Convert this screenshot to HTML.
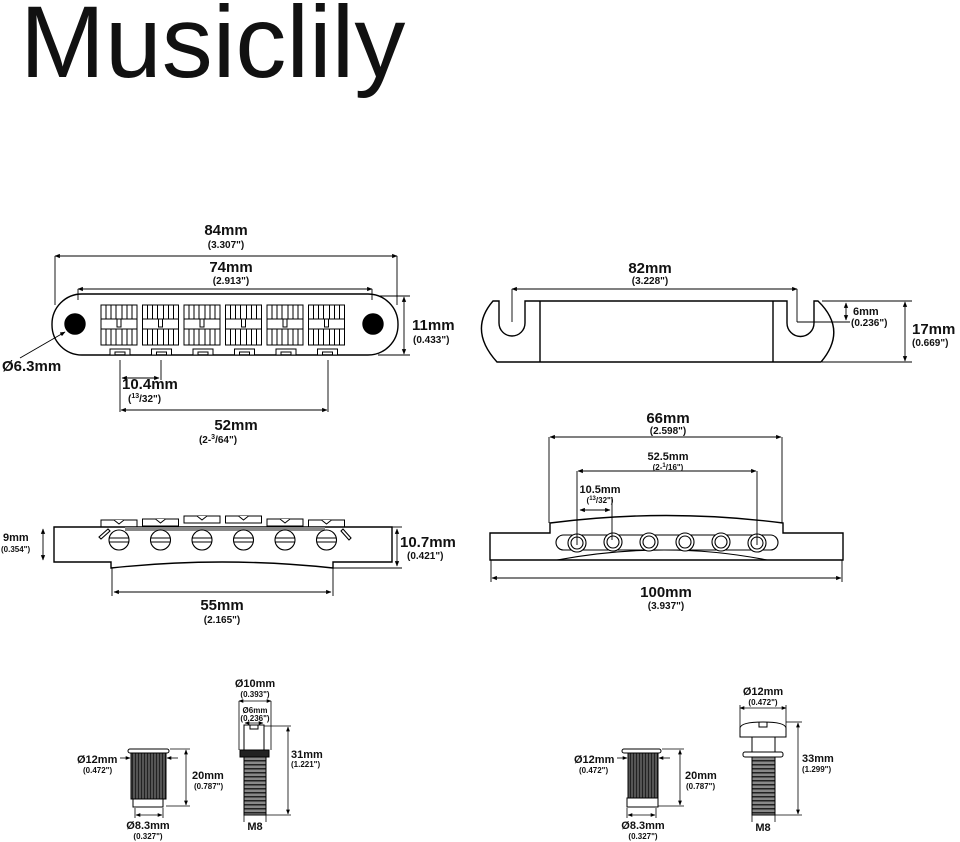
<!DOCTYPE html>
<html><head><meta charset="utf-8"><style>
html,body{margin:0;padding:0;background:#fff;}
svg{display:block;font-family:"Liberation Sans",Arial,sans-serif;}
.b{font-weight:bold;font-size:15px;}
.s{font-weight:bold;font-size:10px;}
.m{font-weight:bold;font-size:11px;}
.t{font-weight:bold;font-size:8px;}
</style></head><body>
<svg width="960" height="842" viewBox="0 0 960 842" xmlns="http://www.w3.org/2000/svg">
<defs>
<marker id="a" viewBox="0 0 10 10" refX="9" refY="5" markerWidth="6" markerHeight="6" orient="auto-start-reverse"><path d="M0,1 L10,5 L0,9 z" fill="#000"/></marker>
<pattern id="knurl" width="3" height="10" patternUnits="userSpaceOnUse"><rect width="3" height="10" fill="#555"/><rect width="1" height="10" fill="#222"/></pattern>
<pattern id="thr" width="10" height="4" patternUnits="userSpaceOnUse"><rect width="10" height="4" fill="#888"/><rect width="10" height="1.5" fill="#222"/></pattern>
</defs>
<text x="20" y="77" font-size="102" fill="#111">Musiclily</text>

<g stroke="#000" fill="none" stroke-width="1.4">
<rect x="52" y="294" width="346" height="61" rx="30"/>
<circle cx="75" cy="324" r="10" fill="#000"/>
<circle cx="373" cy="324" r="10" fill="#000"/>
</g>
<g stroke="#000" fill="#fff" stroke-width="1">
<g id="sad">
<rect x="101" y="305" width="36" height="40"/>
<line x1="101" y1="319" x2="137" y2="319"/><line x1="101" y1="329" x2="137" y2="329"/>
<path d="M106 305V319M111 305V319M116 305V319M122 305V319M127 305V319M132 305V319M106 329V345M111 329V345M116 329V345M122 329V345M127 329V345M132 329V345"/>
<rect x="117" y="319" width="4" height="8"/>
<path d="M110 349h20v6h-5v-3h-10v3h-5z"/>
</g>
<use href="#sad" x="41.5"/><use href="#sad" x="83"/><use href="#sad" x="124.5"/><use href="#sad" x="166"/><use href="#sad" x="207.5"/>
</g>
<g stroke="#000" fill="none" stroke-width="0.9">
<line x1="55" y1="256" x2="55" y2="305"/><line x1="397" y1="256" x2="397" y2="305"/>
<line x1="55" y1="256" x2="397" y2="256" marker-start="url(#a)" marker-end="url(#a)"/>
<line x1="78" y1="300" x2="78" y2="289"/><line x1="372" y1="300" x2="372" y2="289"/>
<line x1="78" y1="289" x2="372" y2="289" marker-start="url(#a)" marker-end="url(#a)"/>
<line x1="378" y1="296" x2="410" y2="296"/><line x1="378" y1="355" x2="410" y2="355"/>
<line x1="404" y1="297" x2="404" y2="354" marker-start="url(#a)" marker-end="url(#a)"/>
<line x1="20" y1="358" x2="65" y2="332" marker-end="url(#a)"/>
<line x1="120" y1="360" x2="120" y2="412"/><line x1="161" y1="360" x2="161" y2="380"/><line x1="328" y1="360" x2="328" y2="412"/>
<line x1="122" y1="378" x2="159" y2="378" marker-start="url(#a)" marker-end="url(#a)"/>
<line x1="121" y1="410" x2="327" y2="410" marker-start="url(#a)" marker-end="url(#a)"/>
</g>
<g fill="#111" text-anchor="middle">
<text x="226" y="235" class="b">84mm</text><text x="226" y="248" class="s">(3.307")</text>
<text x="231" y="272" class="b">74mm</text><text x="231" y="284" class="s">(2.913")</text>
<text x="236" y="430" class="b">52mm</text><text x="218" y="443" class="s">(2-<tspan font-size="7" dy="-4">3</tspan><tspan dy="4">/64")</tspan></text>
</g>
<g fill="#111">
<text x="412" y="330" class="b">11mm</text><text x="413" y="343" class="s">(0.433")</text>
<text x="2" y="371" class="b">Ø6.3mm</text>
<text x="122" y="389" class="b">10.4mm</text><text x="128" y="402" class="s">(<tspan font-size="7" dy="-4">13</tspan><tspan dy="4">/32")</tspan></text>
</g>

<g stroke="#000" fill="none" stroke-width="1.4">
<path d="M499 301 L493 301 Q468 330 497 362 L821 362 Q848 330 818 301 L814 301 L814 323 A13.5 13.5 0 0 1 787 323 L787 301 L525 301 L525 323 A13 13 0 0 1 499 323 Z"/>
<line x1="540" y1="301" x2="540" y2="362"/><line x1="773" y1="301" x2="773" y2="362"/>
</g>
<g stroke="#000" fill="none" stroke-width="0.9">
<line x1="512" y1="289" x2="512" y2="322"/><line x1="797" y1="289" x2="797" y2="322"/>
<line x1="512" y1="289" x2="797" y2="289" marker-start="url(#a)" marker-end="url(#a)"/>
<line x1="797" y1="322" x2="850" y2="322"/>
<line x1="846" y1="303" x2="846" y2="320" marker-start="url(#a)" marker-end="url(#a)"/>
<line x1="822" y1="301" x2="912" y2="301"/><line x1="822" y1="362" x2="912" y2="362"/>
<line x1="905" y1="302" x2="905" y2="361" marker-start="url(#a)" marker-end="url(#a)"/>
</g>
<g fill="#111">
<text x="650" y="273" class="b" text-anchor="middle">82mm</text><text x="650" y="284" class="s" text-anchor="middle">(3.228")</text>
<text x="853" y="315" class="m" font-size="13">6mm</text><text x="851" y="326" class="s">(0.236")</text>
<text x="912" y="334" class="b">17mm</text><text x="912" y="346" class="s">(0.669")</text>
</g>

<g stroke="#000" fill="#fff" stroke-width="1">
<g id="top"><rect x="101" y="520" width="36" height="7"/><path d="M114 520l5 4l5-4"/></g>
<use href="#top" x="41.5" y="-1"/><use href="#top" x="83" y="-4"/><use href="#top" x="124.5" y="-4"/><use href="#top" x="166" y="-1"/><use href="#top" x="207.5"/>
</g>
<g stroke="#000" fill="none" stroke-width="1.4">
<path d="M54 527 L392 527 L392 562 L333 562 L333 568 Q222 556 111 568 L111 562 L54 562 Z" fill="#fff"/>
</g>
<rect x="125" y="527" width="200" height="4" fill="#888"/>
<g stroke="#000" fill="#fff" stroke-width="1.1">
<g id="scr"><circle cx="119" cy="540" r="10"/><line x1="109" y1="538" x2="129" y2="538"/><line x1="109" y1="542" x2="129" y2="542"/></g>
<use href="#scr" x="41.5"/><use href="#scr" x="83"/><use href="#scr" x="124.5"/><use href="#scr" x="166"/><use href="#scr" x="207.5"/>
<path d="M99 537l9-8l2 2l-9 8z"/><path d="M341 531l2-2l8 9l-2 2z"/>
</g>
<g stroke="#000" fill="none" stroke-width="0.9">
<line x1="43" y1="529" x2="43" y2="560" marker-start="url(#a)" marker-end="url(#a)"/>
<line x1="392" y1="527" x2="402" y2="527"/><line x1="333" y1="568" x2="402" y2="568"/>
<line x1="397" y1="529" x2="397" y2="566" marker-start="url(#a)" marker-end="url(#a)"/>
<line x1="112" y1="568" x2="112" y2="596"/><line x1="333" y1="568" x2="333" y2="596"/>
<line x1="114" y1="592" x2="331" y2="592" marker-start="url(#a)" marker-end="url(#a)"/>
</g>
<g fill="#111">
<text x="3" y="541" class="m" font-size="12">9mm</text><text x="1" y="552" class="t" font-size="9">(0.354")</text>
<text x="400" y="547" class="b">10.7mm</text><text x="407" y="559" class="s">(0.421")</text>
<text x="222" y="610" class="b" text-anchor="middle">55mm</text><text x="222" y="623" class="s" text-anchor="middle">(2.165")</text>
</g>

<g stroke="#000" fill="none" stroke-width="1.4">
<path d="M490 533 L550 533 L550 523 Q666 508 783 523 L783 533 L843 533 L843 560 L490 560 Z" fill="#fff"/>
<path d="M557 560 Q666 540 767 560" stroke-width="1.1"/>
<rect x="556" y="535" width="222" height="15" rx="7.5" stroke-width="1.1"/>
</g>
<g stroke="#000" fill="#fff" stroke-width="1.1">
<circle cx="577" cy="543" r="9"/><circle cx="577" cy="543" r="6"/>
<circle cx="613" cy="542" r="9"/><circle cx="613" cy="542" r="6"/>
<circle cx="649" cy="542" r="9"/><circle cx="649" cy="542" r="6"/>
<circle cx="685" cy="542" r="9"/><circle cx="685" cy="542" r="6"/>
<circle cx="721" cy="542" r="9"/><circle cx="721" cy="542" r="6"/>
<circle cx="757" cy="543" r="9"/><circle cx="757" cy="543" r="6"/>
</g>
<g stroke="#000" fill="none" stroke-width="0.9">
<line x1="549" y1="437" x2="549" y2="523"/><line x1="782" y1="437" x2="782" y2="523"/>
<line x1="550" y1="437" x2="781" y2="437" marker-start="url(#a)" marker-end="url(#a)"/>
<line x1="577" y1="471" x2="577" y2="545"/><line x1="757" y1="471" x2="757" y2="545"/>
<line x1="578" y1="471" x2="756" y2="471" marker-start="url(#a)" marker-end="url(#a)"/>
<line x1="612" y1="497" x2="612" y2="540"/>
<line x1="580" y1="510" x2="610" y2="510" marker-start="url(#a)" marker-end="url(#a)"/>
<line x1="491" y1="560" x2="491" y2="582"/><line x1="842" y1="560" x2="842" y2="582"/>
<line x1="492" y1="578" x2="841" y2="578" marker-start="url(#a)" marker-end="url(#a)"/>
</g>
<g fill="#111" text-anchor="middle">
<text x="668" y="423" class="b">66mm</text><text x="668" y="434" class="s">(2.598")</text>
<text x="668" y="460" class="m" font-size="13">52.5mm</text><text x="668" y="470" class="t" font-size="9">(2-<tspan font-size="6" dy="-3">1</tspan><tspan dy="3">/16")</tspan></text>
<text x="600" y="493" class="m" font-size="12">10.5mm</text><text x="600" y="503" class="t" font-size="9">(<tspan font-size="6" dy="-3">13</tspan><tspan dy="3">/32")</tspan></text>
<text x="666" y="597" class="b">100mm</text><text x="666" y="609" class="s">(3.937")</text>
</g>

<g stroke="#000" stroke-width="1">
<rect x="128" y="749" width="41" height="4" rx="2" fill="#fff"/>
<rect x="131" y="753" width="35" height="46" fill="url(#knurl)"/>
<rect x="133" y="799" width="30" height="8" fill="#fff"/>
</g>
<g stroke="#000" stroke-width="1">
<rect x="244" y="725" width="20" height="26" fill="#fff"/>
<path d="M250 725v4h8v-4" fill="none"/>
<rect x="240" y="750" width="29" height="7" fill="#222"/>
<rect x="244" y="757" width="22" height="58" fill="url(#thr)"/>
</g>
<g stroke="#000" stroke-width="1">
<rect x="622" y="749" width="39" height="4" rx="2" fill="#fff"/>
<rect x="628" y="753" width="30" height="45" fill="url(#knurl)"/>
<rect x="627" y="798" width="31" height="9" fill="#fff"/>
</g>
<g stroke="#000" stroke-width="1" fill="#fff">
<path d="M740 737 L740 728 Q741 722 763 722 Q785 722 786 728 L786 737 Z"/>
<path d="M759 722v5h8v-5" fill="none"/>
<rect x="752" y="737" width="23" height="15"/>
<rect x="743" y="752" width="40" height="5" rx="2"/>
<rect x="752" y="757" width="23" height="58" fill="url(#thr)"/>
</g>
<g stroke="#000" fill="none" stroke-width="0.8">
<line x1="120" y1="758" x2="130" y2="758" marker-end="url(#a)"/><line x1="178" y1="758" x2="167" y2="758" marker-end="url(#a)"/>
<line x1="170" y1="749" x2="190" y2="749"/><line x1="166" y1="806" x2="190" y2="806"/>
<line x1="186" y1="750" x2="186" y2="805" marker-start="url(#a)" marker-end="url(#a)"/>
<line x1="135" y1="808" x2="135" y2="818"/><line x1="163" y1="808" x2="163" y2="818"/>
<line x1="136" y1="815" x2="162" y2="815" marker-start="url(#a)" marker-end="url(#a)"/>
<line x1="239" y1="701" x2="271" y2="701" marker-start="url(#a)" marker-end="url(#a)"/>
<line x1="239" y1="701" x2="239" y2="750"/><line x1="271" y1="701" x2="271" y2="750"/>
<line x1="245" y1="723" x2="263" y2="723" marker-start="url(#a)" marker-end="url(#a)"/>
<line x1="264" y1="726" x2="291" y2="726"/><line x1="266" y1="815" x2="291" y2="815"/>
<line x1="288" y1="727" x2="288" y2="814" marker-start="url(#a)" marker-end="url(#a)"/>
<line x1="244" y1="815" x2="244" y2="822"/><line x1="266" y1="815" x2="266" y2="822"/>
<line x1="617" y1="758" x2="627" y2="758" marker-end="url(#a)"/><line x1="670" y1="758" x2="659" y2="758" marker-end="url(#a)"/>
<line x1="662" y1="749" x2="684" y2="749"/><line x1="658" y1="806" x2="684" y2="806"/>
<line x1="680" y1="750" x2="680" y2="805" marker-start="url(#a)" marker-end="url(#a)"/>
<line x1="627" y1="808" x2="627" y2="818"/><line x1="656" y1="808" x2="656" y2="818"/>
<line x1="628" y1="815" x2="655" y2="815" marker-start="url(#a)" marker-end="url(#a)"/>
<line x1="740" y1="708" x2="786" y2="708" marker-start="url(#a)" marker-end="url(#a)"/>
<line x1="740" y1="705" x2="740" y2="728"/><line x1="786" y1="705" x2="786" y2="728"/>
<line x1="786" y1="722" x2="802" y2="722"/><line x1="775" y1="815" x2="802" y2="815"/>
<line x1="798" y1="723" x2="798" y2="814" marker-start="url(#a)" marker-end="url(#a)"/>
<line x1="752" y1="815" x2="752" y2="822"/><line x1="775" y1="815" x2="775" y2="822"/>
</g>
<g fill="#111">
<text x="77" y="763" class="m">Ø12mm</text><text x="83" y="773" class="t">(0.472")</text>
<text x="192" y="779" class="m">20mm</text><text x="194" y="789" class="t">(0.787")</text>
<text x="148" y="829" class="m" text-anchor="middle">Ø8.3mm</text><text x="148" y="839" class="t" text-anchor="middle">(0.327")</text>
<text x="255" y="687" class="m" font-size="10" text-anchor="middle">Ø10mm</text><text x="255" y="697" class="t" text-anchor="middle">(0.393")</text>
<text x="255" y="713" class="t" font-size="9" text-anchor="middle">Ø6mm</text><text x="255" y="721" class="t" font-size="7" text-anchor="middle">(0.236")</text>
<text x="291" y="758" class="m" font-size="10">31mm</text><text x="291" y="767" class="t" font-size="7">(1.221")</text>
<text x="255" y="830" class="m" font-size="10" text-anchor="middle">M8</text>
<text x="574" y="763" class="m">Ø12mm</text><text x="579" y="773" class="t">(0.472")</text>
<text x="685" y="779" class="m">20mm</text><text x="686" y="789" class="t">(0.787")</text>
<text x="643" y="829" class="m" text-anchor="middle">Ø8.3mm</text><text x="643" y="839" class="t" text-anchor="middle">(0.327")</text>
<text x="763" y="695" class="m" font-size="10" text-anchor="middle">Ø12mm</text><text x="763" y="705" class="t" text-anchor="middle">(0.472")</text>
<text x="802" y="762" class="m" font-size="10">33mm</text><text x="802" y="772" class="t" font-size="7">(1.299")</text>
<text x="763" y="831" class="m" font-size="10" text-anchor="middle">M8</text>
</g>
</svg>
</body></html>
